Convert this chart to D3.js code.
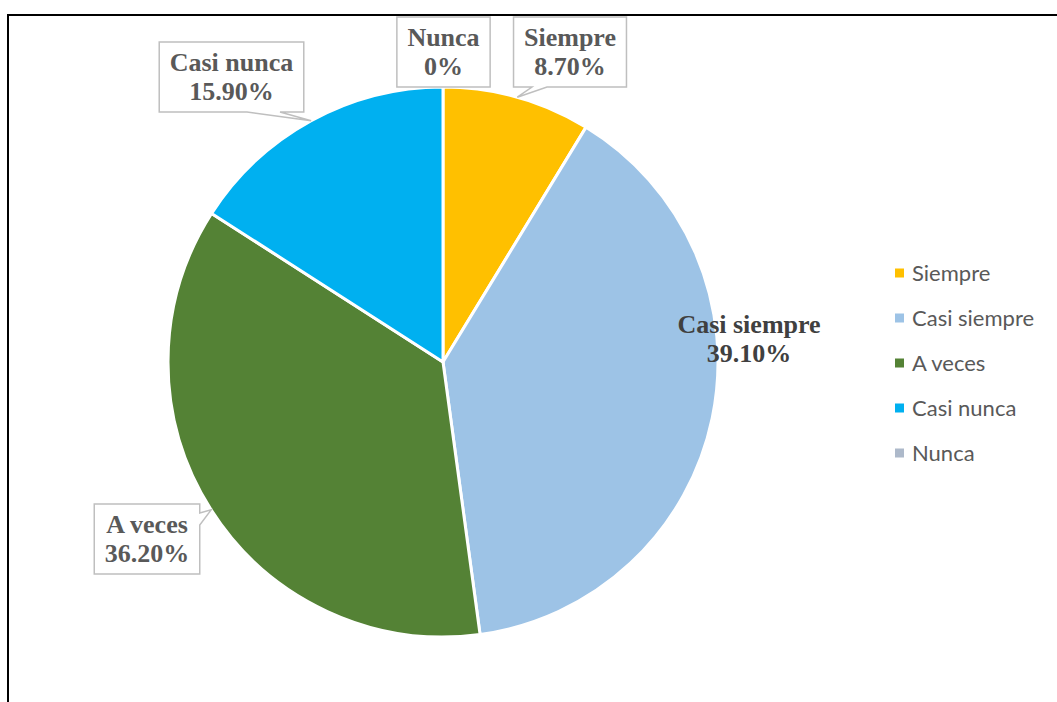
<!DOCTYPE html>
<html>
<head>
<meta charset="utf-8">
<script src="https://cdn.jsdelivr.net/npm/d3@7/dist/d3.min.js"></script>
<style>
  html, body { margin: 0; padding: 0; background: #ffffff; }
  svg { display: block; }
</style>
</head>
<body>
<svg id="chart" width="1057" height="702"></svg>
<script>
// Survey response shares (percent)
const categories = ["Siempre", "Casi siempre", "A veces", "Casi nunca", "Nunca"];
const values = [8.7, 39.1, 36.2, 15.9, 0];
const valueLabels = ["8.70%", "39.10%", "36.20%", "15.90%", "0%"];
const colors = ["#FFC000", "#9DC3E6", "#548235", "#00B0F0", "#ADB9CA"];

const W = 1057, H = 702;
const cx = 443, cy = 362, R = 275;

const svg = d3.select("#chart");

// outer chart frame
svg.append("rect")
  .attr("x", 8).attr("y", 15)
  .attr("width", 1200).attr("height", 900)
  .attr("fill", "none")
  .attr("stroke", "#000")
  .attr("stroke-width", 2);

const data = categories.map((c, i) => ({ name: c, value: values[i], label: valueLabels[i], color: colors[i] }));

const pie = d3.pie().sort(null).value(d => d.value);
const arcs = pie(data);
const arc = d3.arc().innerRadius(0).outerRadius(R);

const g = svg.append("g").attr("transform", `translate(${cx},${cy})`);

g.selectAll("path.slice")
  .data(arcs.filter(a => a.data.value > 0))
  .join("path")
  .attr("class", "slice")
  .attr("d", arc)
  .attr("fill", d => d.data.color)
  .attr("stroke", "#fff")
  .attr("stroke-width", 3)
  .attr("stroke-linejoin", "round");

// point on the rim at a slice's middle angle
function rimPoint(a) {
  const m = (a.startAngle + a.endAngle) / 2;
  return [cx + R * Math.sin(m), cy - R * Math.cos(m)];
}

// callout label placement: box centre x, box top y, wedge edge and base span
const callouts = {
  "Nunca":      { bx: 443.5, by: 17,  side: "bottom", b0: 430, b1: 447 },
  "Siempre":    { bx: 570,   by: 17,  side: "bottom", b0: 532, b1: 547 },
  "Casi nunca": { bx: 231.5, by: 42,  side: "bottom", b0: 247, b1: 280 },
  "A veces":    { bx: 147,   by: 504, side: "right",  b0: 513, b1: 525 }
};
const boxH = 70, pad = 10.5;
const labelFont = "'Liberation Serif', 'Times New Roman', serif";

const labelLayer = svg.append("g");

arcs.forEach(a => {
  const d = a.data;
  const c = callouts[d.name];
  if (!c) return;
  const grp = labelLayer.append("g");
  const path = grp.append("path");
  const t1 = grp.append("text").text(d.name)
    .attr("x", c.bx).attr("y", c.by + 29);
  const t2 = grp.append("text").text(d.label)
    .attr("x", c.bx).attr("y", c.by + 58);
  grp.selectAll("text")
    .attr("text-anchor", "middle")
    .attr("font-family", labelFont)
    .attr("font-weight", "bold")
    .attr("font-size", 26)
    .attr("fill", "#595959");
  const tw = Math.max(t1.node().getComputedTextLength(), t2.node().getComputedTextLength());
  const bw = tw + 2 * pad;
  const x0 = c.bx - bw / 2, x1 = c.bx + bw / 2, y0 = c.by, y1 = c.by + boxH;
  const tip = rimPoint(a);
  let p = d3.path();
  p.moveTo(x0, y0);
  p.lineTo(x1, y0);
  if (c.side === "right") {
    p.lineTo(x1, c.b0);
    p.lineTo(tip[0], tip[1]);
    p.lineTo(x1, c.b1);
  }
  p.lineTo(x1, y1);
  if (c.side === "bottom") {
    p.lineTo(c.b1, y1);
    p.lineTo(tip[0], tip[1]);
    p.lineTo(c.b0, y1);
  }
  p.lineTo(x0, y1);
  p.closePath();
  path.attr("d", p.toString())
    .attr("fill", "#fff")
    .attr("stroke", "#BFBFBF")
    .attr("stroke-width", 1.5);
});

// in-slice style label for the largest share
const big = data[1];
const bigLbl = svg.append("g")
  .attr("font-family", labelFont)
  .attr("font-weight", "bold")
  .attr("font-size", 26)
  .attr("fill", "#404040")
  .attr("text-anchor", "middle");
bigLbl.append("text").attr("x", 749).attr("y", 333).text(big.name);
bigLbl.append("text").attr("x", 749).attr("y", 362).text(big.label);

// legend
const legend = svg.append("g").attr("transform", "translate(895,273)");
const item = legend.selectAll("g")
  .data(data)
  .join("g")
  .attr("transform", (d, i) => `translate(0,${i * 45})`);
item.append("rect")
  .attr("x", 0).attr("y", -4.5)
  .attr("width", 9).attr("height", 9)
  .attr("fill", d => d.color);
item.append("text")
  .attr("x", 17).attr("y", 0)
  .attr("dy", "0.36em")
  .attr("font-family", "Lato, 'Open Sans', sans-serif")
  .attr("font-size", 22)
  .attr("fill", "#595959")
  .text(d => d.name);
</script>
</body>
</html>
